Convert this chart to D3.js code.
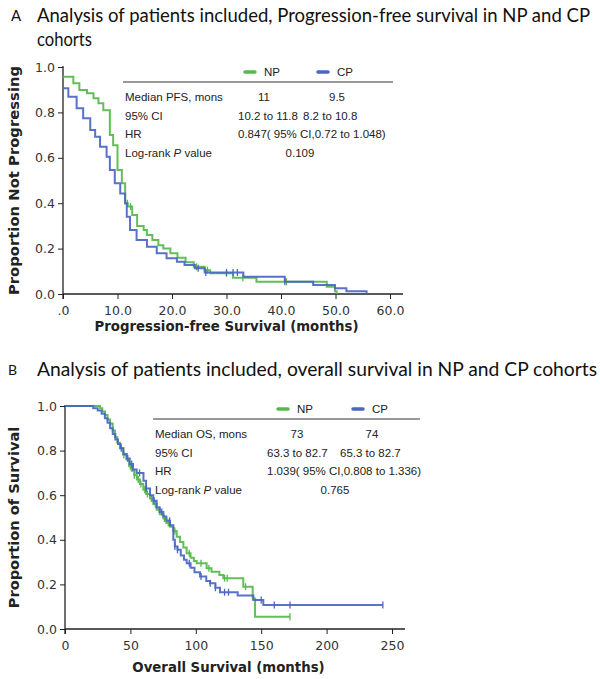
<!DOCTYPE html>
<html><head><meta charset="utf-8">
<script src="https://cdn.jsdelivr.net/npm/d3@7"></script>
<style>body{margin:0;background:#fff}svg{display:block}</style>
</head><body>
<svg id="c" width="600" height="679"></svg>
<script>
// ---------- Data ----------
// Panel A: Progression-free survival (months, proportion)
const pfsNPTime = [0, 1.9, 3.0, 4.4, 5.6, 6.5, 7.4, 8.6, 9.2, 10.0, 10.8, 11.4, 11.9, 12.7, 13.6, 14.8, 15.4, 16.4, 17.5, 18.4, 19.7, 21.0, 22.5, 24.0, 26.0, 27.0, 31.2, 35.5, 48.4, 49.9, 50.2];
const pfsNPSurv = [0.957, 0.928, 0.899, 0.884, 0.862, 0.84, 0.81, 0.70, 0.655, 0.546, 0.488, 0.40, 0.385, 0.348, 0.30, 0.282, 0.26, 0.238, 0.215, 0.20, 0.18, 0.16, 0.14, 0.12, 0.105, 0.091, 0.072, 0.054, 0.032, 0.012, 0];
const pfsCPTime = [0, 0.98, 2.5, 3.7, 5.0, 5.9, 6.8, 8.0, 8.6, 9.5, 10.5, 11.4, 11.7, 12.3, 13.5, 15.4, 17.2, 19.0, 20.9, 22.3, 24.2, 26.0, 33.1, 40.7, 45.9, 49.9, 52.0, 55.7];
const pfsCPSurv = [0.906, 0.869, 0.818, 0.774, 0.722, 0.693, 0.649, 0.605, 0.546, 0.488, 0.443, 0.40, 0.34, 0.282, 0.238, 0.208, 0.179, 0.157, 0.142, 0.128, 0.113, 0.095, 0.076, 0.054, 0.04, 0.025, 0.012, 0];
const pfsNPCensor = [11.8, 12.4, 24.5, 26.5, 30.0, 33.0, 41.0];
const pfsCPCensor = [24.8, 26.2, 30.0, 31.2, 32.0, 40.7];
const pfsXTicks = [0, 10, 20, 30, 40, 50, 60];
const pfsXLabels = [".0", "10.0", "20.0", "30.0", "40.0", "50.0", "60.0"];
const yTicks = [0, 0.2, 0.4, 0.6, 0.8, 1.0];
const yLabels = ["0.0", "0.2", "0.4", "0.6", "0.8", "1.0"];
const pfsRows = ["Median PFS, mons", "95% CI", "HR", "Log-rank P value"];
const pfsNPVals = ["11", "10.2 to 11.8"];
const pfsCPVals = ["9.5", "8.2 to 10.8"];
const pfsHR = "0.847( 95% CI,0.72 to 1.048)";
const pfsP = "0.109";

// Panel B: Overall survival
const osNPTime = [0, 26.8, 28.5, 30.6, 32.5, 34.4, 36.5, 38.2, 40, 42, 44.6, 47, 49, 51, 53, 55, 57.3, 59.9, 62, 65, 67.5, 70.1, 72.5, 75.2, 77.5, 80.3, 82.8, 85.4, 88, 90.5, 93, 96, 98.5, 100.7, 108.3, 112, 118, 121, 136.3, 143.5, 145.3, 172];
const osNPSurv = [1.0, 0.99, 0.975, 0.96, 0.94, 0.922, 0.89, 0.86, 0.835, 0.81, 0.78, 0.76, 0.73, 0.71, 0.69, 0.67, 0.65, 0.625, 0.605, 0.585, 0.56, 0.535, 0.515, 0.495, 0.475, 0.458, 0.44, 0.414, 0.39, 0.365, 0.34, 0.32, 0.305, 0.295, 0.272, 0.257, 0.242, 0.228, 0.19, 0.137, 0.055, 0.055];
const osCPTime = [0, 21.6, 25, 28, 30.5, 32.5, 34.5, 36.5, 38.5, 40.5, 42.5, 44.6, 47.2, 49.5, 52, 54.8, 60, 62, 65, 67.5, 70.1, 72.5, 75.2, 77.5, 80.3, 82.8, 84, 86, 88.5, 91, 93, 96, 99, 103.2, 108, 111, 115, 118.5, 132, 144, 151.6, 243];
const osCPSurv = [1.0, 0.99, 0.98, 0.965, 0.945, 0.925, 0.9, 0.875, 0.85, 0.83, 0.81, 0.785, 0.765, 0.74, 0.715, 0.70, 0.665, 0.63, 0.6, 0.575, 0.545, 0.525, 0.505, 0.485, 0.465, 0.40, 0.37, 0.355, 0.33, 0.31, 0.295, 0.275, 0.255, 0.235, 0.215, 0.205, 0.185, 0.165, 0.15, 0.13, 0.108, 0.108];
const osNPCensor = [45, 50, 53, 56, 58, 61, 63, 66, 69, 72, 76, 79, 84, 95, 104, 110, 122, 124, 138, 172];
const osCPCensor = [43, 48, 51, 57, 62, 68, 74, 80, 84, 86, 95, 104, 111, 115, 122, 125, 150, 160, 172, 243];
const osXTicks = [0, 50, 100, 150, 200, 250];
const osXLabels = ["0", "50", "100", "150", "200", "250"];
const osRows = ["Median OS, mons", "95% CI", "HR", "Log-rank P value"];
const osNPVals = ["73", "63.3 to 82.7"];
const osCPVals = ["74", "65.3 to 82.7"];
const osHR = "1.039( 95% CI,0.808 to 1.336)";
const osP = "0.765";

const seriesNames = ["NP", "CP"];
const colors = {NP: "#56b84c", CP: "#4a66c6"};

// ---------- Drawing ----------
const svg = d3.select("#c");
svg.append("rect").attr("width", 600).attr("height", 679).attr("fill", "#fff");

const titleFont = "Lato, 'Open Sans', sans-serif";
const axFont = "'DejaVu Sans', Verdana, sans-serif";
const tabFont = "'Liberation Sans', Arial, sans-serif";

function titleText(x, y, txt, w, size) {
  svg.append("text").attr("x", x).attr("y", y).attr("font-family", titleFont)
    .attr("font-size", size).attr("fill", "#111")
    .attr("textLength", w).attr("lengthAdjust", "spacingAndGlyphs").text(txt);
}

// Titles
svg.append("text").attr("x", 11).attr("y", 21).attr("font-family", titleFont).attr("font-size", 15).attr("fill", "#111").text("A");
titleText(37, 22, "Analysis of patients included, Progression-free survival in NP and CP", 553, 18.5);
titleText(37, 46, "cohorts", 55, 18.5);
svg.append("text").attr("x", 8).attr("y", 375).attr("font-family", titleFont).attr("font-size", 14).attr("fill", "#111").text("B");
titleText(37, 376, "Analysis of patients included, overall survival in NP and CP cohorts", 560, 18.5);

function zipPts(t, s) { return t.map((d, i) => [d, s[i]]); }
function survAt(t, s, x) { let v = s[0]; for (let i = 0; i < t.length; i++) { if (t[i] <= x) v = s[i]; } return v; }

function panel(cfg) {
  const x = d3.scaleLinear().domain(cfg.xDomain).range(cfg.xRange);
  const y = d3.scaleLinear().domain([0, 1]).range(cfg.yRange);
  const g = svg.append("g");

  // x axis
  const xa = d3.axisBottom(x).tickValues(cfg.xTicks).tickSize(5).tickSizeOuter(0)
    .tickFormat((d, i) => cfg.xLabels[i]);
  const gx = g.append("g").attr("transform", `translate(0,${cfg.yRange[0]})`).call(xa);
  gx.select(".domain").remove();
  gx.selectAll("text").attr("font-family", axFont).attr("font-size", 12.5).attr("fill", "#333").attr("dy", "1.0em");
  gx.selectAll("line").attr("stroke", "#222");
  g.append("line").attr("x1", cfg.xRange[0]).attr("x2", cfg.xAxisEnd)
    .attr("y1", cfg.yRange[0]).attr("y2", cfg.yRange[0]).attr("stroke", "#222").attr("stroke-width", 1.3);

  // y axis
  const ya = d3.axisLeft(y).tickValues(yTicks).tickSize(5).tickSizeOuter(0)
    .tickFormat((d, i) => yLabels[i]);
  const gy = g.append("g").attr("transform", `translate(${cfg.xRange[0]},0)`).call(ya);
  gy.select(".domain").remove();
  gy.selectAll("text").attr("font-family", axFont).attr("font-size", 12.5).attr("fill", "#333");
  gy.selectAll("line").attr("stroke", "#222");
  g.append("line").attr("x1", cfg.xRange[0]).attr("x2", cfg.xRange[0])
    .attr("y1", cfg.yRange[0] + 5).attr("y2", cfg.yRange[1] - 1).attr("stroke", "#222").attr("stroke-width", 1.3);

  // axis titles
  g.append("text").attr("x", (cfg.xRange[0] + cfg.xRange[1]) / 2).attr("y", cfg.xTitleY)
    .attr("text-anchor", "middle").attr("font-family", axFont).attr("font-weight", "bold")
    .attr("font-size", 13.3).attr("fill", "#222").text(cfg.xTitle);
  g.append("text").attr("transform", `translate(${cfg.yTitleX},${(cfg.yRange[0] + cfg.yRange[1]) / 2}) rotate(-90)`)
    .attr("text-anchor", "middle").attr("font-family", axFont).attr("font-weight", "bold")
    .attr("font-size", cfg.yTitleSize).attr("fill", "#222").text(cfg.yTitle);

  // table
  const tb = cfg.table;
  g.append("line").attr("x1", tb.x1).attr("x2", tb.x2).attr("y1", tb.lineY).attr("y2", tb.lineY)
    .attr("stroke", "#333").attr("stroke-width", 1.2);
  seriesNames.forEach((nm, i) => {
    const cx = tb.colX[i];
    g.append("line").attr("x1", cx - 27).attr("x2", cx - 17).attr("y1", tb.lineY - 10).attr("y2", tb.lineY - 10)
      .attr("stroke", colors[nm]).attr("stroke-width", 3.5).attr("stroke-linecap", "round");
    g.append("text").attr("x", cx).attr("y", tb.lineY - 6).attr("text-anchor", "middle")
      .attr("font-family", tabFont).attr("font-size", 11.5).attr("fill", "#222").text(nm);
  });
  tb.rows.forEach((r, i) => {
    const t = g.append("text").attr("x", tb.x1 + 2).attr("y", tb.lineY + 19 + i * 18.5)
      .attr("font-family", tabFont).attr("font-size", 11.5).attr("fill", "#222");
    if (r.indexOf(" P ") >= 0) {
      const parts = r.split(" P ");
      t.append("tspan").text(parts[0] + " ");
      t.append("tspan").attr("font-style", "italic").text("P");
      t.append("tspan").text(" " + parts[1]);
    } else t.text(r);
  });
  [tb.np, tb.cp].forEach((vals, j) => {
    g.append("text").attr("x", tb.colX[j] - 8).attr("y", tb.lineY + 19).attr("text-anchor", "middle")
      .attr("font-family", tabFont).attr("font-size", 11.5).attr("fill", "#222").text(vals[0]);
    g.append("text").attr("x", tb.ciX[j]).attr("y", tb.lineY + 37.5)
      .attr("font-family", tabFont).attr("font-size", 11.5).attr("fill", "#222").text(vals[1]);
  });
  g.append("text").attr("x", tb.ciX[0]).attr("y", tb.lineY + 56)
    .attr("font-family", tabFont).attr("font-size", 11.5).attr("fill", "#222").text(tb.hr);
  g.append("text").attr("x", tb.pX).attr("y", tb.lineY + 74.5).attr("text-anchor", "middle")
    .attr("font-family", tabFont).attr("font-size", 11.5).attr("fill", "#222").text(tb.p);

  // curves
  const line = d3.line().x(d => x(d[0])).y(d => y(d[1])).curve(d3.curveStepAfter);
  cfg.series.forEach(s => {
    g.append("path").datum(zipPts(s.t, s.s)).attr("d", line).attr("fill", "none")
      .attr("stroke", colors[s.name]).attr("stroke-width", 2).attr("stroke-opacity", 0.92);
    g.selectAll(null).data(s.c).join("line")
      .attr("x1", d => x(d)).attr("x2", d => x(d))
      .attr("y1", d => y(survAt(s.t, s.s, d)) - 3.5).attr("y2", d => y(survAt(s.t, s.s, d)) + 3.5)
      .attr("stroke", colors[s.name]).attr("stroke-width", 1.3);
  });
}

panel({
  xDomain: [0, 60], xRange: [63, 390], yRange: [294, 67], xAxisEnd: 403,
  xTicks: pfsXTicks, xLabels: pfsXLabels,
  xTitle: "Progression-free Survival (months)", xTitleY: 331,
  yTitle: "Proportion Not Progressing", yTitleX: 19, yTitleSize: 14.8,
  series: [
    {name: "NP", t: pfsNPTime, s: pfsNPSurv, c: pfsNPCensor},
    {name: "CP", t: pfsCPTime, s: pfsCPSurv, c: pfsCPCensor}
  ],
  table: {x1: 123, x2: 393, lineY: 82, colX: [272, 345], ciX: [238, 303], pX: 300,
    rows: pfsRows, np: pfsNPVals, cp: pfsCPVals, hr: pfsHR, p: pfsP}
});

panel({
  xDomain: [0, 250], xRange: [65, 392], yRange: [629, 406], xAxisEnd: 405,
  xTicks: osXTicks, xLabels: osXLabels,
  xTitle: "Overall Survival (months)", xTitleY: 672,
  yTitle: "Proportion of Survival", yTitleX: 19, yTitleSize: 14.6,
  series: [
    {name: "NP", t: osNPTime, s: osNPSurv, c: osNPCensor},
    {name: "CP", t: osCPTime, s: osCPSurv, c: osCPCensor}
  ],
  table: {x1: 153, x2: 420, lineY: 419, colX: [305, 380], ciX: [267, 340], pX: 335,
    rows: osRows, np: osNPVals, cp: osCPVals, hr: osHR, p: osP}
});
</script>
</body></html>
